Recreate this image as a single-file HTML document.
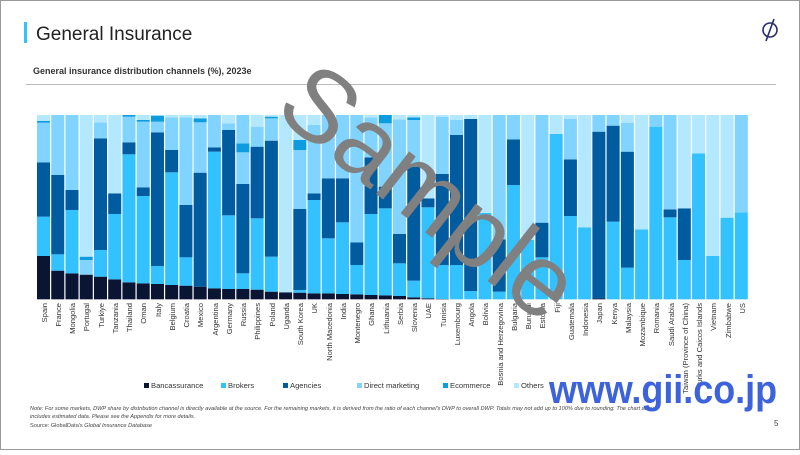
<!DOCTYPE html>
<html><head><meta charset="utf-8"><style>
html,body{margin:0;padding:0;background:#fff}
body{width:800px;height:450px;overflow:hidden;font-family:"Liberation Sans",sans-serif}
</style></head><body>
<svg id="s" width="800" height="450" viewBox="0 0 800 450" xmlns="http://www.w3.org/2000/svg" font-family="Liberation Sans, sans-serif">
<rect x="0.5" y="0.5" width="799" height="449" fill="#fff" stroke="#9a9a9a"/>
<rect x="24" y="22" width="3" height="21" fill="#33c1ff"/>
<text x="36" y="40" font-size="19" fill="#222">General Insurance</text>
<text x="33" y="74" font-size="9" font-weight="bold" fill="#333">General insurance distribution channels (%), 2023e</text>
<line x1="26" y1="84.5" x2="776" y2="84.5" stroke="#bbb"/>
<g fill="none" stroke="#2a2a6a" stroke-width="1.6"><circle cx="770" cy="30" r="7"/><line x1="766" y1="41" x2="774" y2="19"/></g>
<g id="bars"></g>
<g font-size="7.6" fill="#333" text-anchor="end" id="lab">
<text transform="translate(47,303) rotate(-90)">Spain</text>
<text transform="translate(61,303) rotate(-90)">France</text>
<text transform="translate(75,303) rotate(-90)">Mongolia</text>
<text transform="translate(89,303) rotate(-90)">Portugal</text>
<text transform="translate(104,303) rotate(-90)">Turkiye</text>
<text transform="translate(118,303) rotate(-90)">Tanzania</text>
<text transform="translate(132,303) rotate(-90)">Thailand</text>
<text transform="translate(146,303) rotate(-90)">Oman</text>
<text transform="translate(161,303) rotate(-90)">Italy</text>
<text transform="translate(175,303) rotate(-90)">Belgium</text>
<text transform="translate(189,303) rotate(-90)">Croatia</text>
<text transform="translate(203,303) rotate(-90)">Mexico</text>
<text transform="translate(218,303) rotate(-90)">Argentina</text>
<text transform="translate(232,303) rotate(-90)">Germany</text>
<text transform="translate(246,303) rotate(-90)">Russia</text>
<text transform="translate(260,303) rotate(-90)">Philippines</text>
<text transform="translate(275,303) rotate(-90)">Poland</text>
<text transform="translate(289,303) rotate(-90)">Uganda</text>
<text transform="translate(303,303) rotate(-90)">South Korea</text>
<text transform="translate(317,303) rotate(-90)">UK</text>
<text transform="translate(332,303) rotate(-90)">North Macedonia</text>
<text transform="translate(346,303) rotate(-90)">India</text>
<text transform="translate(360,303) rotate(-90)">Montenegro</text>
<text transform="translate(374,303) rotate(-90)">Ghana</text>
<text transform="translate(389,303) rotate(-90)">Lithuania</text>
<text transform="translate(403,303) rotate(-90)">Serbia</text>
<text transform="translate(417,303) rotate(-90)">Slovenia</text>
<text transform="translate(431,303) rotate(-90)">UAE</text>
<text transform="translate(446,303) rotate(-90)">Tunisia</text>
<text transform="translate(460,303) rotate(-90)">Luxembourg</text>
<text transform="translate(474,303) rotate(-90)">Angola</text>
<text transform="translate(488,303) rotate(-90)">Bolivia</text>
<text transform="translate(503,303) rotate(-90)">Bosnia and Herzegovina</text>
<text transform="translate(517,303) rotate(-90)">Bulgaria</text>
<text transform="translate(531,303) rotate(-90)">Burundi</text>
<text transform="translate(545,303) rotate(-90)">Estonia</text>
<text transform="translate(560,303) rotate(-90)">Fiji</text>
<text transform="translate(574,303) rotate(-90)">Guatemala</text>
<text transform="translate(588,303) rotate(-90)">Indonesia</text>
<text transform="translate(602,303) rotate(-90)">Japan</text>
<text transform="translate(617,303) rotate(-90)">Kenya</text>
<text transform="translate(631,303) rotate(-90)">Malaysia</text>
<text transform="translate(645,303) rotate(-90)">Mozambique</text>
<text transform="translate(659,303) rotate(-90)">Romania</text>
<text transform="translate(674,303) rotate(-90)">Saudi Arabia</text>
<text transform="translate(688,303) rotate(-90)">Taiwan (Province of China)</text>
<text transform="translate(702,303) rotate(-90)">Turks and Caicos Islands</text>
<text transform="translate(716,303) rotate(-90)">Vietnam</text>
<text transform="translate(731,303) rotate(-90)">Zimbabwe</text>
<text transform="translate(745,303) rotate(-90)">US</text>
</g>
<g font-size="7.6" fill="#333">
<rect x="144" y="383" width="5" height="5" fill="#0a1433"/><text x="151" y="388">Bancassurance</text>
<rect x="221" y="383" width="5" height="5" fill="#33c1ff"/><text x="228" y="388">Brokers</text>
<rect x="283" y="383" width="5" height="5" fill="#005b9f"/><text x="290" y="388">Agencies</text>
<rect x="357" y="383" width="5" height="5" fill="#80d4ff"/><text x="364" y="388">Direct marketing</text>
<rect x="443" y="383" width="5" height="5" fill="#0e9ce0"/><text x="450" y="388">Ecommerce</text>
<rect x="514" y="383" width="5" height="5" fill="#b3e8ff"/><text x="521" y="388">Others</text>
</g>
<g font-size="5.6" fill="#444" font-style="italic">
<text x="30" y="410">Note: For some markets, DWP share by distribution channel is directly available at the source. For the remaining markets, it is derived from the ratio of each channel's DWP to overall DWP. Totals may not add up to 100% due to rounding. The chart above</text>
<text x="30" y="418">includes estimated data. Please see the Appendix for more details.</text>
<text x="30" y="427" font-style="normal">Source: GlobalData's <tspan font-style="italic">Global Insurance Database</tspan></text>
</g>
<text x="774" y="426" font-size="8" fill="#444">5</text>
<text transform="translate(425,198) rotate(38)" text-anchor="middle" font-size="102" fill="#808080" dominant-baseline="middle">Sample</text>
<text x="549" y="403" font-size="40" font-weight="bold" fill="#3c62dc" textLength="228" lengthAdjust="spacingAndGlyphs">www.gii.co.jp</text>
</svg>
<script>
var C={b:"#0a1433",r:"#33c1ff",a:"#005b9f",d:"#80d4ff",e:"#0e9ce0",o:"#b3e8ff"};
var D=["b438 r320 a157 d38 e33 o15","b482 r433 a195 d15","b490 r300 a240 d15","b494 d450 e440 o15","b500 r420 a85 d37 o15","b508 r312 a250 o15","b517 r133 a97 d20 e15","b520 r258 a232 d35 e30 o15","b522 r468 a67 d35 e17 o15","b525 r187 a120 d22 o15","b527 r442 a285 d22 o15","b530 a188 d37 e25 o15","b535 r125 a112 d15","b537 r316 a60 d40 o15","b537 r490 a222 d127 e100 d15","b539 r325 a110 d50 o15","b545 r440 a92 d25 e20 o15","b547 o15","b548 r540 a297 d120 e90 o15","b550 r270 a250 d45 o15","b550 r385 a205 d15","b552 r337 a205 d15","b553 r465 a397 d15","b555 r312 a142 d22 o15","b556 r295 a230 d40 e15","b558 r460 a372 d28 o15","b562 r512 a170 d30 e22 o15","b565 r292 a265 o15","b567 r465 a192 d20 o15","r465 a75 d30 o15","r543 a27 o15","r309 o15","r545 a388 d15","r225 a88 d15","r390 o15","r442 a338 d15","r72 o15","r318 a148 d27 o15","r352 o15","b565 a65 d15","r335 a47 d15","r473 a125 d38 o15","r358 o15","r50 d15","r322 a298 d15","r450 a295 o15","r130 o15","r438 o15","r323 o15","r307 d15"];
var g=document.getElementById("bars"),h="",w=(749-37)/50;
D.forEach(function(s,i){var prev=568,x=37+i*w;s.split(" ").forEach(function(t){var k=t[0],z=+t.slice(1);var y1=110+z/3,y2=110+prev/3;h+='<rect x="'+x.toFixed(2)+'" y="'+y1.toFixed(2)+'" width="'+(w-1.2).toFixed(2)+'" height="'+(y2-y1).toFixed(2)+'" fill="'+C[k]+'"/>';prev=z;});});
g.innerHTML=h;
</script>
</body></html>
